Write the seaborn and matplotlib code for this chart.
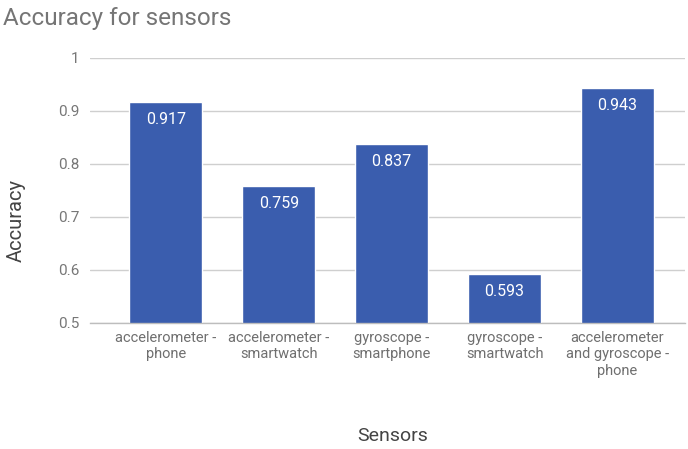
import matplotlib
matplotlib.use("Agg")
import matplotlib.pyplot as plt
import seaborn as sns
import pandas as pd

sensors = [
    "accelerometer -\nphone",
    "accelerometer -\nsmartwatch",
    "gyroscope -\nsmartphone",
    "gyroscope -\nsmartwatch",
    "accelerometer\nand gyroscope -\nphone",
]
accuracy = [0.917, 0.759, 0.837, 0.593, 0.943]
yticks = [0.5, 0.6, 0.7, 0.8, 0.9, 1.0]
ytick_labels = ["0.5", "0.6", "0.7", "0.8", "0.9", "1"]

df = pd.DataFrame({"Sensors": sensors, "Accuracy": accuracy})

sns.set_style("white")
plt.rcParams["font.family"] = ["Roboto", "DejaVu Sans"]

fig = plt.figure(figsize=(6.88, 4.49), dpi=100)
ax = fig.add_axes([0.131, 0.281, 0.865, 0.59])

bar_color = "#3a5dae"
sns.barplot(data=df, x="Sensors", y="Accuracy", color=bar_color,
            saturation=1, width=0.65, ax=ax, zorder=3)

ax.set_ylim(0.5, 1.0)
ax.set_xlim(-0.67, 4.6)
ax.set_yticks(yticks)
ax.set_yticklabels(ytick_labels)
ax.yaxis.grid(True, color="#cfcfcf", linewidth=1, zorder=0)
ax.set_axisbelow(True)
for side in ["top", "right", "left"]:
    ax.spines[side].set_visible(False)
ax.spines["bottom"].set_color("#bdbdbd")
ax.spines["bottom"].set_linewidth(1)
ax.spines["bottom"].set_zorder(4)

ax.tick_params(axis="y", length=0, labelsize=11, labelcolor="#777777", pad=8)
ax.tick_params(axis="x", length=0, labelsize=10.5, labelcolor="#6f6f6f", pad=6)

ax.set_xlabel("Sensors", fontsize=14, color="#444444")
ax.set_ylabel("Accuracy", fontsize=14.5, color="#444444")
ax.xaxis.set_label_coords(0.508, -0.392)
ax.yaxis.set_label_coords(-0.108, 0.385)

for container in ax.containers:
    ax.bar_label(container, labels=[f"{v:.3f}" for v in accuracy],
                 padding=-18, color="white", fontsize=11.5)

fig.text(0.004, 0.958, "Accuracy for sensors", fontsize=17.5, color="#757575",
         ha="left", va="center")

fig.savefig("out.png", dpi=100, facecolor="white")
